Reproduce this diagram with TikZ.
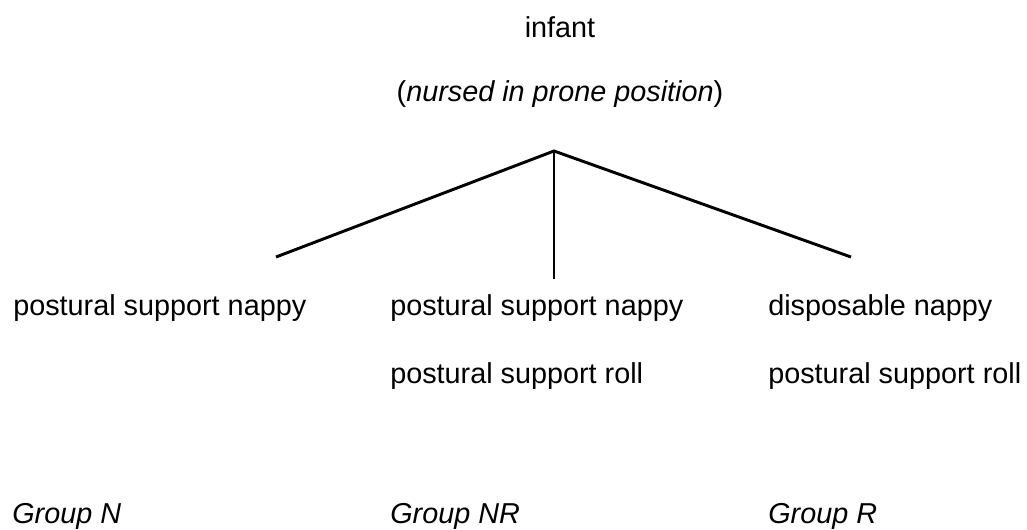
\documentclass[tikz,border=0pt]{standalone}
\usepackage{fontspec}
\setmainfont{Liberation Sans}
\begin{document}
\begin{tikzpicture}[x=0.75pt,y=-0.75pt,
  txt/.style={anchor=base west,inner sep=0pt,font=\fontsize{21.6}{26}\selectfont},
  ctxt/.style={anchor=base,inner sep=0pt,font=\fontsize{21.6}{26}\selectfont},
  branch/.style={line width=2.2pt}]
\useasboundingbox (0,0) rectangle (1027,529);
\node[ctxt] (infant) at (560,37) {infant};
\node[ctxt] (nursed) at (560,101) {(\textit{nursed in prone position})};
\coordinate (apex) at (554,151);
\coordinate (lend) at (276,257);
\coordinate (mend) at (554,279);
\coordinate (rend) at (851,257);
\draw[branch] (lend) -- (apex) -- (rend);
\draw[branch] (apex) -- (mend);
\node[txt] (a1) at (13,315) {postural support nappy};
\node[txt] (b1) at (390,315) {postural support nappy};
\node[txt] (b2) at (390,383) {postural support roll};
\node[txt] (c1) at (768,315) {disposable nappy};
\node[txt] (c2) at (768,383) {postural support roll};
\node[txt] (gn) at (12,523) {\textit{Group N}};
\node[txt] (gnr) at (390,523) {\textit{Group NR}};
\node[txt] (gr) at (768,523) {\textit{Group R}};
\end{tikzpicture}
\end{document}
